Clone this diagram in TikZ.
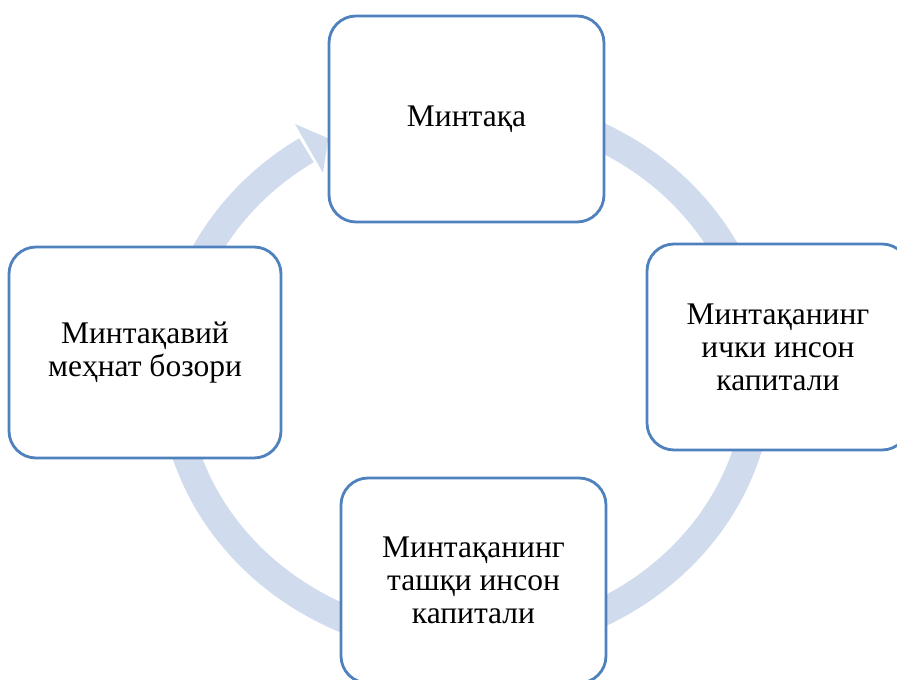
\documentclass[tikz,border=0pt]{standalone}
\usepackage{fontspec}
\setmainfont{Liberation Serif}
\definecolor{boxblue}{RGB}{79,129,189}
\definecolor{ringblue}{RGB}{208,220,238}
\begin{document}
\begin{tikzpicture}[x=1pt,y=1pt,
  cyclebox/.style={draw=boxblue, line width=2.8pt, fill=white, rounded corners=27pt,
    inner sep=0pt, align=center, font=\fontsize{31.5}{33}\selectfont},
  ring/.style={draw=ringblue, line width=28pt}]
\useasboundingbox (0,0) rectangle (897,680);
\clip (0,0) rectangle (897,680);
% circular arrow behind the boxes
\draw[ring] (466,573) arc[start angle=90, end angle=-237, x radius=293, y radius=268];
\fill[ringblue] (295,556) -- (328.3,541.7) -- (323,507) -- cycle;
% boxes
\node[cyclebox, minimum width=275pt, minimum height=206pt] (top) at (466.5,561) {Минтақа};
\node[cyclebox, minimum width=262pt, minimum height=206pt] (right) at (778,333) {Минтақанинг\\ички инсон\\капитали};
\node[cyclebox, minimum width=265pt, minimum height=205pt] (bottom) at (473.5,99.5) {Минтақанинг\\ташқи инсон\\капитали};
\node[cyclebox, minimum width=272pt, minimum height=211pt] (left) at (145,327.5) {Минтақавий\\меҳнат бозори};
\end{tikzpicture}
\end{document}
